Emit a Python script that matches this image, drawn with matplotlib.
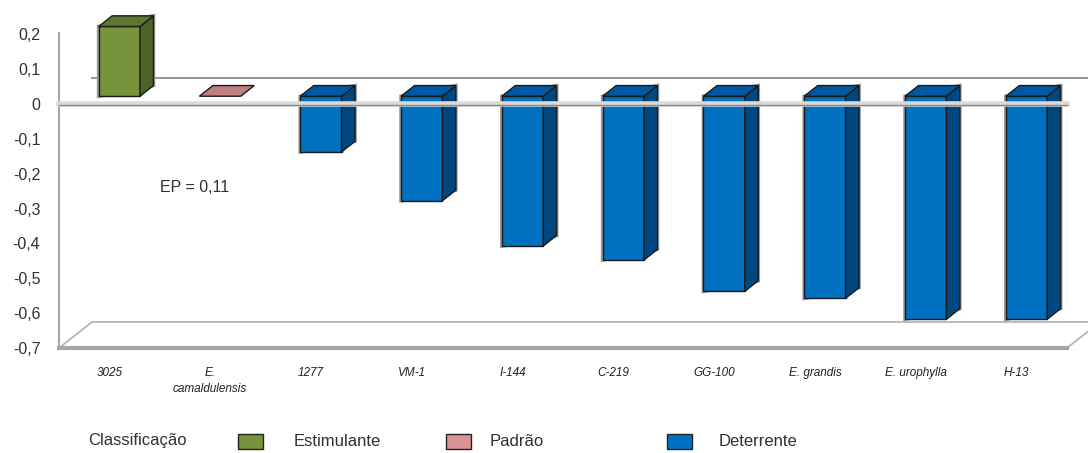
import matplotlib.pyplot as plt
from matplotlib.patches import Polygon, Rectangle

plt.rcParams['font.family'] = ['Liberation Sans', 'DejaVu Sans']

# Preference index per clone / species
categories = ["3025", "E.\ncamaldulensis", "1277", "VM-1", "I-144", "C-219",
              "GG-100", "E. grandis", "E. urophylla", "H-13"]
values = [0.20, 0.0, -0.16, -0.30, -0.43, -0.47, -0.56, -0.58, -0.64, -0.64]
classes = ["Estimulante", "Padrão", "Deterrente", "Deterrente", "Deterrente",
           "Deterrente", "Deterrente", "Deterrente", "Deterrente", "Deterrente"]
yticks = [0.2, 0.1, 0.0, -0.1, -0.2, -0.3, -0.4, -0.5, -0.6, -0.7]
ep_label = "EP = 0,11"

# front / side / top shades for each class
colors = {
    "Estimulante": ("#77933c", "#4f6228", "#5c7530"),
    "Padrão": ("#d99594", "#a06565", "#c08080"),
    "Deterrente": ("#0070c0", "#00467f", "#0059a0"),
}

# oblique 3D depth (data units) of the chart box, bars sit inside it
DX, DY = 0.327, 0.0746
F0, F1 = 0.30, 0.71
BAR_W = 0.41

fig = plt.figure(figsize=(10.88, 4.53), dpi=100)
ax = fig.add_axes([59 / 1088, 105 / 453, 1008 / 1088, 313.7 / 453])
ax.set_xlim(-0.5, 9.5)
ax.set_ylim(-0.7, 0.2)
for s in ax.spines.values():
    s.set_visible(False)

ymin = -0.7
xl, xr = -0.5, 9.5

# floor of the box
floor = Polygon([(xl, ymin), (xr, ymin), (xr + DX, ymin + DY), (xl + DX, ymin + DY)],
                closed=True, facecolor="white", edgecolor="#b0b0b0", lw=1.2,
                clip_on=False, zorder=1)
ax.add_patch(floor)
ax.plot([xl, xr], [ymin, ymin], color="#a6a6a6", lw=3, clip_on=False, zorder=2)

# back edge of the zero plane
ax.plot([xl + DX, xr + DX], [DY, DY], color="#8c8c8c", lw=1.3, clip_on=False, zorder=1)

# vertical axis
ax.plot([xl, xl], [ymin, 0.205], color="#a6a6a6", lw=1.5, clip_on=False, zorder=2)

for i, (v, c) in enumerate(zip(values, classes)):
    front, side, top = colors[c]
    ox, oy = F0 * DX, F0 * DY
    ddx, ddy = (F1 - F0) * DX, (F1 - F0) * DY
    x0, x1 = i - BAR_W / 2 + ox, i + BAR_W / 2 + ox
    y0, y1 = oy, v + oy
    ytop = max(y0, y1)
    lo = min(y0, y1)
    if v != 0:
        # soft grey shadow behind the block
        ax.add_patch(Polygon([(x0, lo), (x1 + ddx, lo + ddy), (x1 + ddx, ytop + ddy), (x0, ytop)],
                             closed=True, facecolor="none", edgecolor="#9a9a9a", lw=2.6,
                             clip_on=False, zorder=2.5))
        ax.add_patch(Polygon([(x0, lo), (x1, lo), (x1, ytop), (x0, ytop)], closed=True,
                             facecolor=front, edgecolor="#1a1a1a", lw=1,
                             clip_on=False, zorder=3))
        ax.add_patch(Polygon([(x1, lo), (x1, ytop), (x1 + ddx, ytop + ddy), (x1 + ddx, lo + ddy)],
                             closed=True, facecolor=side, edgecolor="#1a1a1a", lw=1,
                             clip_on=False, zorder=3))
    ax.add_patch(Polygon([(x0, ytop), (x1, ytop), (x1 + ddx, ytop + ddy), (x0 + ddx, ytop + ddy)],
                         closed=True, facecolor=top, edgecolor="#1a1a1a", lw=1,
                         clip_on=False, zorder=3))

# front edge of the zero plane, drawn over the bars
ax.plot([xl, xr], [0, 0], color="#dadada", lw=4, clip_on=False, zorder=4)
ax.plot([xl, xr], [-0.003, -0.003], color="#8a8a8a", lw=1, clip_on=False, zorder=4)

ax.set_yticks(yticks)
ax.set_yticklabels(["0" if t == 0 else f"{t:.1f}".replace(".", ",") for t in yticks],
                   fontsize=11.5, color="#303030")
ax.set_xticks(range(len(categories)))
ax.set_xticklabels(categories, fontsize=8.5, style="italic", color="#202020",
                   linespacing=1.35)
ax.tick_params(axis="y", length=0, pad=13.5)
ax.tick_params(axis="x", length=0, pad=14)

ax.text(0.84, -0.24, ep_label, fontsize=11.5, color="#303030", ha="center", va="center")

# legend row
fig.text(88 / 1088, 1 - 441 / 453, "Classificação", fontsize=12, color="#303030", va="center")
legend_items = [("Estimulante", 238, 294), ("Padrão", 446, 490), ("Deterrente", 667, 719)]
for name, sx, tx in legend_items:
    fig.patches.append(Rectangle((sx / 1088, 1 - 449 / 453), 25 / 1088, 15 / 453,
                                 transform=fig.transFigure, facecolor=colors[name][0],
                                 edgecolor="#222222", lw=1))
    fig.text(tx / 1088, 1 - 441 / 453, name, fontsize=12, color="#303030", va="center")

fig.savefig("out.png", dpi=100)
